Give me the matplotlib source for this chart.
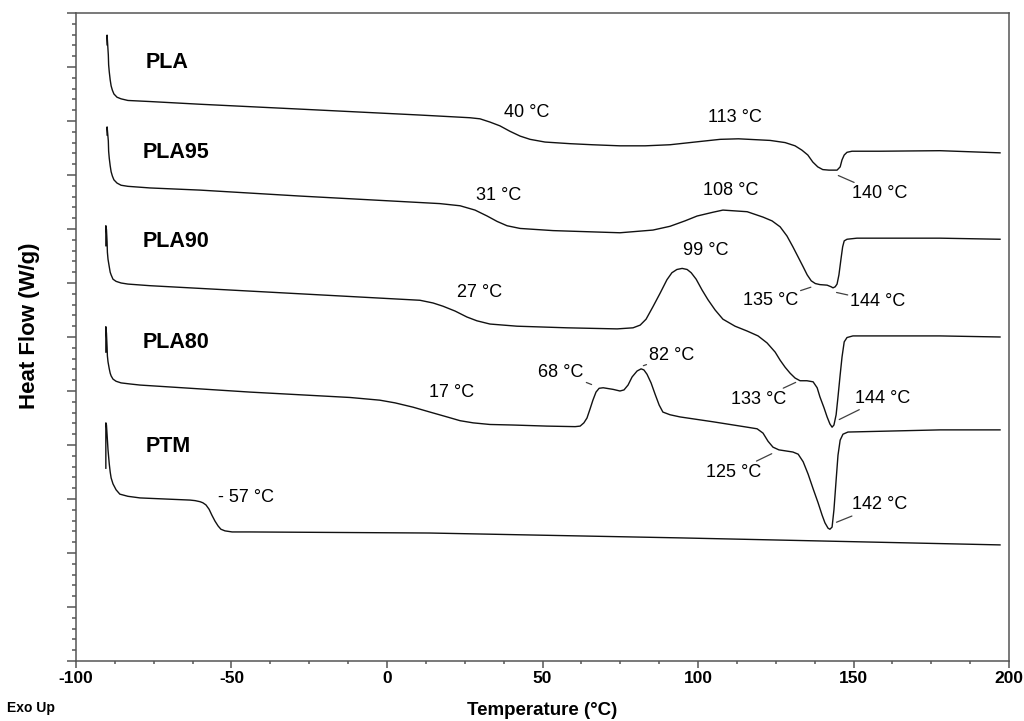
import matplotlib.pyplot as plt
from matplotlib.ticker import MultipleLocator

plt.rcParams['font.family'] = ['Liberation Sans', 'DejaVu Sans']
plt.rcParams['axes.unicode_minus'] = False

# DSC heating scans, curves shifted vertically for clarity (exo up)
pla_t = [-90.0, -90.0, -89.9, -89.6, -89.5, -89.3, -89.0, -88.7, -88.3, -87.8, -86.8, -85.5, -83.3,
         -76.2, -60.1, -28.0, 10.6, 20.3, 26.7, 29.9, 33.1, 36.3, 39.5, 42.8, 46.0, 50.8, 58.8,
         66.0, 74.9, 83.0, 91.0, 100.6, 107.1, 113.0, 123.2, 128.0, 131.2, 133.4, 135.3, 136.9,
         138.5, 140.1, 142.1, 144.7, 145.7, 146.3, 147.0, 147.9, 149.5, 158.5, 177.8, 197.1]
pla_hf = [11.41, 11.59, 11.50, 11.22, 11.04, 10.91, 10.76, 10.65, 10.57, 10.50, 10.44, 10.41, 10.38,
          10.36, 10.31, 10.22, 10.11, 10.08, 10.06, 10.04, 9.98, 9.91, 9.81, 9.72, 9.66, 9.61, 9.58,
          9.56, 9.54, 9.54, 9.56, 9.62, 9.66, 9.67, 9.64, 9.60, 9.54, 9.46, 9.37, 9.24,
          9.15, 9.10, 9.09, 9.09, 9.15, 9.28, 9.37, 9.42, 9.44, 9.44, 9.45, 9.41]

pla95_t = [-90.0, -90.0, -89.9, -89.6, -89.5, -89.3, -89.0, -88.7, -88.3, -87.8, -86.8, -85.5, -83.3,
           -76.2, -60.1, -28.0, 10.6, 17.0, 23.5, 28.3, 32.2, 35.4, 38.6, 42.8, 53.4, 74.9, 85.5,
           91.0, 95.8, 99.7, 104.8, 108.0, 115.8, 120.9, 123.8, 126.4, 128.6, 130.5, 132.2, 133.8,
           135.1, 136.4, 137.7, 139.2, 141.5, 142.8, 143.4, 144.1, 144.7, 145.3, 146.0, 146.5, 147.0,
           147.9, 151.1, 177.8, 197.1]
pla95_hf = [9.74, 9.89, 9.83, 9.63, 9.44, 9.31, 9.17, 9.06, 8.98, 8.91, 8.85, 8.81, 8.79,
            8.76, 8.72, 8.61, 8.49, 8.47, 8.43, 8.35, 8.24, 8.14, 8.06, 8.01, 7.97, 7.93, 7.98,
            8.05, 8.15, 8.24, 8.31, 8.35, 8.32, 8.22, 8.15, 8.04, 7.87, 7.67, 7.48, 7.30,
            7.15, 7.04, 6.99, 6.97, 6.96, 6.93, 6.91, 6.93, 6.98, 7.15, 7.46, 7.67, 7.78,
            7.81, 7.83, 7.83, 7.81]

pla90_t = [-90.4, -90.4, -90.2, -90.0, -89.9, -89.7, -89.3, -89.0, -88.7, -88.1, -87.1, -85.5, -83.3,
           -76.2, -44.1, 4.2, 10.6, 14.8, 18.0, 21.9, 25.7, 28.9, 33.1, 41.8, 57.9, 74.0, 79.1,
           81.4, 83.3, 85.5, 87.8, 90.0, 91.6, 93.2, 94.9, 96.5, 97.8, 99.4, 101.3, 103.2, 105.5,
           108.0, 111.9, 115.8, 119.3, 122.2, 124.8, 126.4, 128.0, 129.6, 131.2, 132.8, 135.0, 137.0,
           138.3, 139.2, 140.5, 141.5, 142.4, 143.1, 143.7, 144.4, 145.0, 145.7, 146.3, 147.0, 147.9,
           149.8, 177.8, 197.1]
pla90_hf = [7.69, 8.06, 7.99, 7.76, 7.57, 7.44, 7.30, 7.20, 7.15, 7.07, 7.03, 7.00, 6.98,
            6.95, 6.85, 6.70, 6.68, 6.63, 6.57, 6.48, 6.37, 6.30, 6.24, 6.20, 6.17, 6.15, 6.17,
            6.22, 6.33, 6.56, 6.81, 7.06, 7.19, 7.25, 7.27, 7.25, 7.19, 7.07, 6.87, 6.69, 6.50,
            6.33, 6.20, 6.11, 6.02, 5.89, 5.72, 5.57, 5.44, 5.33, 5.24, 5.19, 5.19, 5.17,
            5.06, 4.89, 4.69, 4.52, 4.39, 4.33, 4.37, 4.56, 4.89, 5.30, 5.63, 5.91, 5.99,
            6.02, 6.02, 6.00]

pla80_t = [-90.4, -90.4, -90.2, -90.0, -89.9, -89.7, -89.3, -89.0, -88.7, -88.1, -87.1, -85.5, -82.6,
           -79.4, -44.1, -11.9, -2.3, 2.6, 8.4, 13.8, 19.3, 23.5, 27.7, 33.1, 40.5, 51.4, 60.5, 62.1,
           63.3, 64.3, 65.3, 66.2, 67.2, 68.2, 69.5, 72.7, 74.9, 76.2, 77.5, 78.8, 80.4, 81.7, 82.6,
           83.6, 84.9, 86.2, 87.5, 88.7, 91.0, 94.2, 104.8, 115.8, 119.0, 120.9, 122.5, 124.1,
           126.0, 130.5, 132.2, 133.8, 135.4, 137.0, 138.6, 139.9, 140.8, 141.8, 142.4, 143.1, 143.7,
           144.4, 145.0, 145.7, 146.6, 148.2, 177.8, 197.1]
pla80_hf = [5.72, 6.19, 6.07, 5.81, 5.65, 5.54, 5.41, 5.33, 5.28, 5.22, 5.18, 5.15, 5.13,
            5.11, 4.98, 4.88, 4.83, 4.78, 4.70, 4.61, 4.52, 4.45, 4.41, 4.38, 4.37, 4.35, 4.34, 4.35,
            4.41, 4.50, 4.67, 4.83, 4.98, 5.05, 5.06, 5.03, 5.00, 5.02, 5.11, 5.26, 5.37, 5.41, 5.39,
            5.31, 5.15, 4.94, 4.74, 4.61, 4.56, 4.52, 4.43, 4.33, 4.30, 4.22, 4.07, 3.96,
            3.91, 3.87, 3.83, 3.69, 3.46, 3.19, 2.93, 2.70, 2.56, 2.46, 2.44, 2.48, 2.80,
            3.35, 3.81, 4.09, 4.20, 4.24, 4.28, 4.28]

ptm_t = [-90.4, -90.4, -90.2, -90.0, -89.7, -89.3, -89.0, -88.7, -88.1, -87.1, -85.9, -83.3, -79.4,
         -63.3, -61.7, -60.1, -59.2, -58.2, -57.2, -56.3, -55.3, -54.3, -53.4, -52.1, -49.8, -44.1,
         13.8, 94.2, 197.1]
ptm_hf = [3.57, 4.41, 4.37, 4.19, 3.91, 3.65, 3.50, 3.39, 3.28, 3.17, 3.09, 3.05, 3.02,
          2.98, 2.97, 2.95, 2.93, 2.89, 2.81, 2.70, 2.59, 2.50, 2.44, 2.41, 2.39, 2.39,
          2.37, 2.28, 2.15]

names = ['PLA', 'PLA95', 'PLA90', 'PLA80', 'PTM']
name_t = [-77.5, -78.5, -78.5, -78.5, -77.5]
name_hf = [10.98, 9.31, 7.67, 5.80, 3.87]

# transition temperatures written next to the curves (no leader line)
note_text = ['40 °C', '113 °C', '31 °C', '108 °C', '27 °C', '99 °C', '17 °C', '- 57 °C']
note_t = [45.0, 111.9, 36.0, 110.6, 29.9, 102.6, 20.6, -45.3]
note_hf = [10.07, 9.98, 8.54, 8.63, 6.74, 7.52, 4.89, 2.94]

# transition temperatures with a leader to the curve
lead_text = ['140 °C', '135 °C', '144 °C', '133 °C', '144 °C', '68 °C', '82 °C', '125 °C', '142 °C']
lead_t = [158.5, 123.2, 157.9, 119.6, 159.2, 55.9, 91.6, 111.3, 158.5]
lead_hf = [8.57, 6.59, 6.57, 4.76, 4.78, 5.26, 5.57, 3.41, 2.81]
point_t = [144.7, 136.7, 144.1, 131.8, 145.0, 66.2, 82.0, 124.1, 144.1]
point_hf = [9.00, 6.93, 6.83, 5.17, 4.46, 5.11, 5.46, 3.85, 2.56]

fig = plt.figure(figsize=(10.24, 7.21), dpi=100)
ax = fig.add_axes([0.0742, 0.0832, 0.9112, 0.8988])

for t, hf in [(pla_t, pla_hf), (pla95_t, pla95_hf), (pla90_t, pla90_hf),
              (pla80_t, pla80_hf), (ptm_t, ptm_hf)]:
    ax.plot(t, hf, color='#111111', lw=1.0, solid_joinstyle='round')

for name, t, hf in zip(names, name_t, name_hf):
    ax.text(t, hf, name, fontsize=15.5, fontweight='bold', ha='left', va='baseline')

for s, t, hf in zip(note_text, note_t, note_hf):
    ax.text(t, hf, s, fontsize=13, ha='center', va='baseline')

for s, t, hf, pt, phf in zip(lead_text, lead_t, lead_hf, point_t, point_hf):
    ax.annotate(s, xy=(pt, phf), xytext=(t, hf), fontsize=13, ha='center', va='baseline',
                arrowprops=dict(arrowstyle='-', color='#404040', lw=0.9, shrinkA=0, shrinkB=1))

ax.set_xlim(-100, 200)
ax.set_ylim(0, 12)
ax.set_xticks(range(-100, 201, 50))
ax.xaxis.set_minor_locator(MultipleLocator(12.5))
ax.yaxis.set_major_locator(MultipleLocator(1))
ax.yaxis.set_minor_locator(MultipleLocator(0.2))
ax.set_yticklabels([])

spine_col = '#555555'
for sp in ax.spines.values():
    sp.set_color(spine_col)
    sp.set_linewidth(1.1)
ax.tick_params(axis='both', which='both', color=spine_col, width=1.1, direction='out')
ax.tick_params(axis='x', which='major', length=5, pad=2, labelsize=12.5)
ax.tick_params(axis='x', which='minor', length=2.5)
ax.tick_params(axis='y', which='major', length=6.5)
ax.tick_params(axis='y', which='minor', length=3)
for lab in ax.get_xticklabels():
    lab.set_fontweight('bold')

ax.set_xlabel('Temperature (°C)', fontsize=13.5, fontweight='bold')
ax.xaxis.set_label_coords(0.5, -0.064)
ax.set_ylabel('Heat Flow (W/g)', fontsize=16, fontweight='bold')
ax.yaxis.set_label_coords(-0.039, 0.518)

fig.text(0.007, 0.018, 'Exo Up', fontsize=10, fontweight='bold', va='center')

fig.savefig('out.png', dpi=100)
